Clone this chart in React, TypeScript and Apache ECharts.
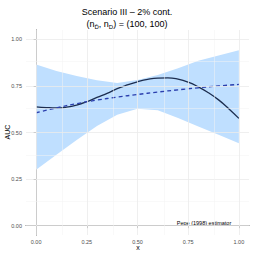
import React, { useEffect, useRef } from "react";
import * as echarts from "echarts";

const xs = [0, 0.1, 0.2, 0.3, 0.4, 0.5, 0.6, 0.7, 0.8, 0.9, 1.0];
const bandUpper = [0.865, 0.83, 0.803, 0.78, 0.766, 0.782, 0.808, 0.845, 0.885, 0.913, 0.941];
const bandLower = [0.3, 0.38, 0.46, 0.535, 0.595, 0.627, 0.62, 0.578, 0.532, 0.488, 0.442];
const dashedAUC = [0.606, 0.632, 0.655, 0.674, 0.69, 0.704, 0.717, 0.729, 0.74, 0.75, 0.758];
const xsFine = [0, 0.05, 0.1, 0.15, 0.2, 0.25, 0.3, 0.35, 0.4, 0.45, 0.5, 0.55, 0.6, 0.65, 0.7, 0.75, 0.8, 0.85, 0.9, 0.95, 1.0];
const solidAUC = [0.638, 0.634, 0.632, 0.636, 0.647, 0.665, 0.688, 0.71, 0.735, 0.755, 0.772, 0.785, 0.792, 0.793, 0.786, 0.77, 0.745, 0.713, 0.675, 0.628, 0.576];
const tickValues = [0, 0.25, 0.5, 0.75, 1];
const gridValues = [0, 0.125, 0.25, 0.375, 0.5, 0.625, 0.75, 0.875, 1];
const titleLine1 = "Scenario III \u2013 2% cont.";
const annotation = "Pepe (1998) estimator";
const xTitle = "x";
const yTitle = "AUC";

const FONT = "Liberation Sans, Arial, sans-serif";

export default function App() {
  const ref = useRef<HTMLDivElement>(null);
  useEffect(() => {
    if (!ref.current) return;
    const chart = echarts.init(ref.current, null, { renderer: "svg" });
    const pairs = (xv: number[], ys: number[]) => xv.map((x, i) => [x, ys[i]]);
    const gridLines: any[] = [];
    gridValues.forEach((v, i) => {
      const major = i % 2 === 0;
      const ls = { color: major ? "#ebebeb" : "#f3f3f3", width: major ? 0.8 : 0.5, type: "solid" };
      gridLines.push({ xAxis: v, lineStyle: ls });
      gridLines.push({ yAxis: v, lineStyle: ls });
    });
    const axisCommon = {
      type: "value",
      min: -0.05,
      max: 1.05,
      axisLine: { show: true, lineStyle: { color: "#555", width: 1 } },
      axisTick: { show: true, customValues: tickValues, length: 2.5, lineStyle: { color: "#555" } },
      axisLabel: {
        customValues: tickValues,
        formatter: (v: number) => v.toFixed(2),
        fontSize: 5.5,
        color: "#4d4d4d",
        margin: 4,
        fontFamily: FONT,
      },
      splitLine: { show: false },
    };
    chart.setOption({
      animation: false,
      textStyle: { fontFamily: FONT },
      title: [
        {
          text: titleLine1,
          left: "center",
          top: 2,
          textStyle: { fontSize: 9, fontWeight: "normal", color: "#000", fontFamily: FONT },
        },
        {
          text: "{a|(n}{s|D\u0304}{a|, n}{s|D}{a|) = (100, 100)}",
          left: "center",
          top: 14,
          textStyle: {
            fontFamily: FONT,
            fontWeight: "normal",
            rich: {
              a: { fontSize: 9, color: "#000", fontFamily: FONT, fontWeight: "normal", verticalAlign: "bottom" },
              s: { fontSize: 6, color: "#000", fontFamily: FONT, fontWeight: "normal", verticalAlign: "bottom", padding: [0, 0, -2, 0] },
            },
          },
        },
      ],
      grid: { left: 26, right: 5, top: 30, bottom: 19, containLabel: false, outerBoundsMode: "none" },
      xAxis: { ...axisCommon },
      yAxis: { ...axisCommon },
      series: [
        {
          type: "line",
          data: [],
          silent: true,
          markLine: { silent: true, symbol: "none", label: { show: false }, data: gridLines, animation: false },
        },
        {
          type: "custom",
          silent: true,
          data: [0],
          renderItem: (params: any, api: any) => {
            const pts: number[][] = [];
            xs.forEach((x, i) => pts.push(api.coord([x, bandUpper[i]])));
            for (let i = xs.length - 1; i >= 0; i--) pts.push(api.coord([xs[i], bandLower[i]]));
            return {
              type: "polygon",
              shape: { points: pts },
              style: { fill: "#bfdfff", stroke: "none" },
            };
          },
          z: 2,
        },
        {
          type: "line",
          data: pairs(xsFine, solidAUC),
          smooth: true,
          showSymbol: false,
          lineStyle: { color: "#1c2d4f", width: 1.3 },
          z: 3,
        },
        {
          type: "line",
          data: pairs(xs, dashedAUC),
          smooth: true,
          showSymbol: false,
          lineStyle: { color: "#2b3fae", width: 1.3, type: [4, 3] },
          z: 3,
        },
      ],
      graphic: [
        {
          type: "text",
          x: 204,
          y: 223,
          style: {
            text: annotation,
            fontSize: 5.5,
            fill: "#000",
            fontFamily: FONT,
            align: "center",
            verticalAlign: "middle",
          },
        },
        {
          type: "text",
          x: 138,
          y: 247,
          style: { text: xTitle, fontSize: 7, fill: "#000", fontFamily: FONT, align: "center", verticalAlign: "middle" },
        },
        {
          type: "text",
          x: 7,
          y: 132,
          rotation: Math.PI / 2,
          style: { text: yTitle, fontSize: 7, fill: "#000", fontFamily: FONT, align: "center", verticalAlign: "middle" },
        },
      ],
    });
    return () => chart.dispose();
  }, []);
  return <div ref={ref} style={{ width: 254, height: 254, position: "absolute", left: 0, top: 0 }} />;
}
